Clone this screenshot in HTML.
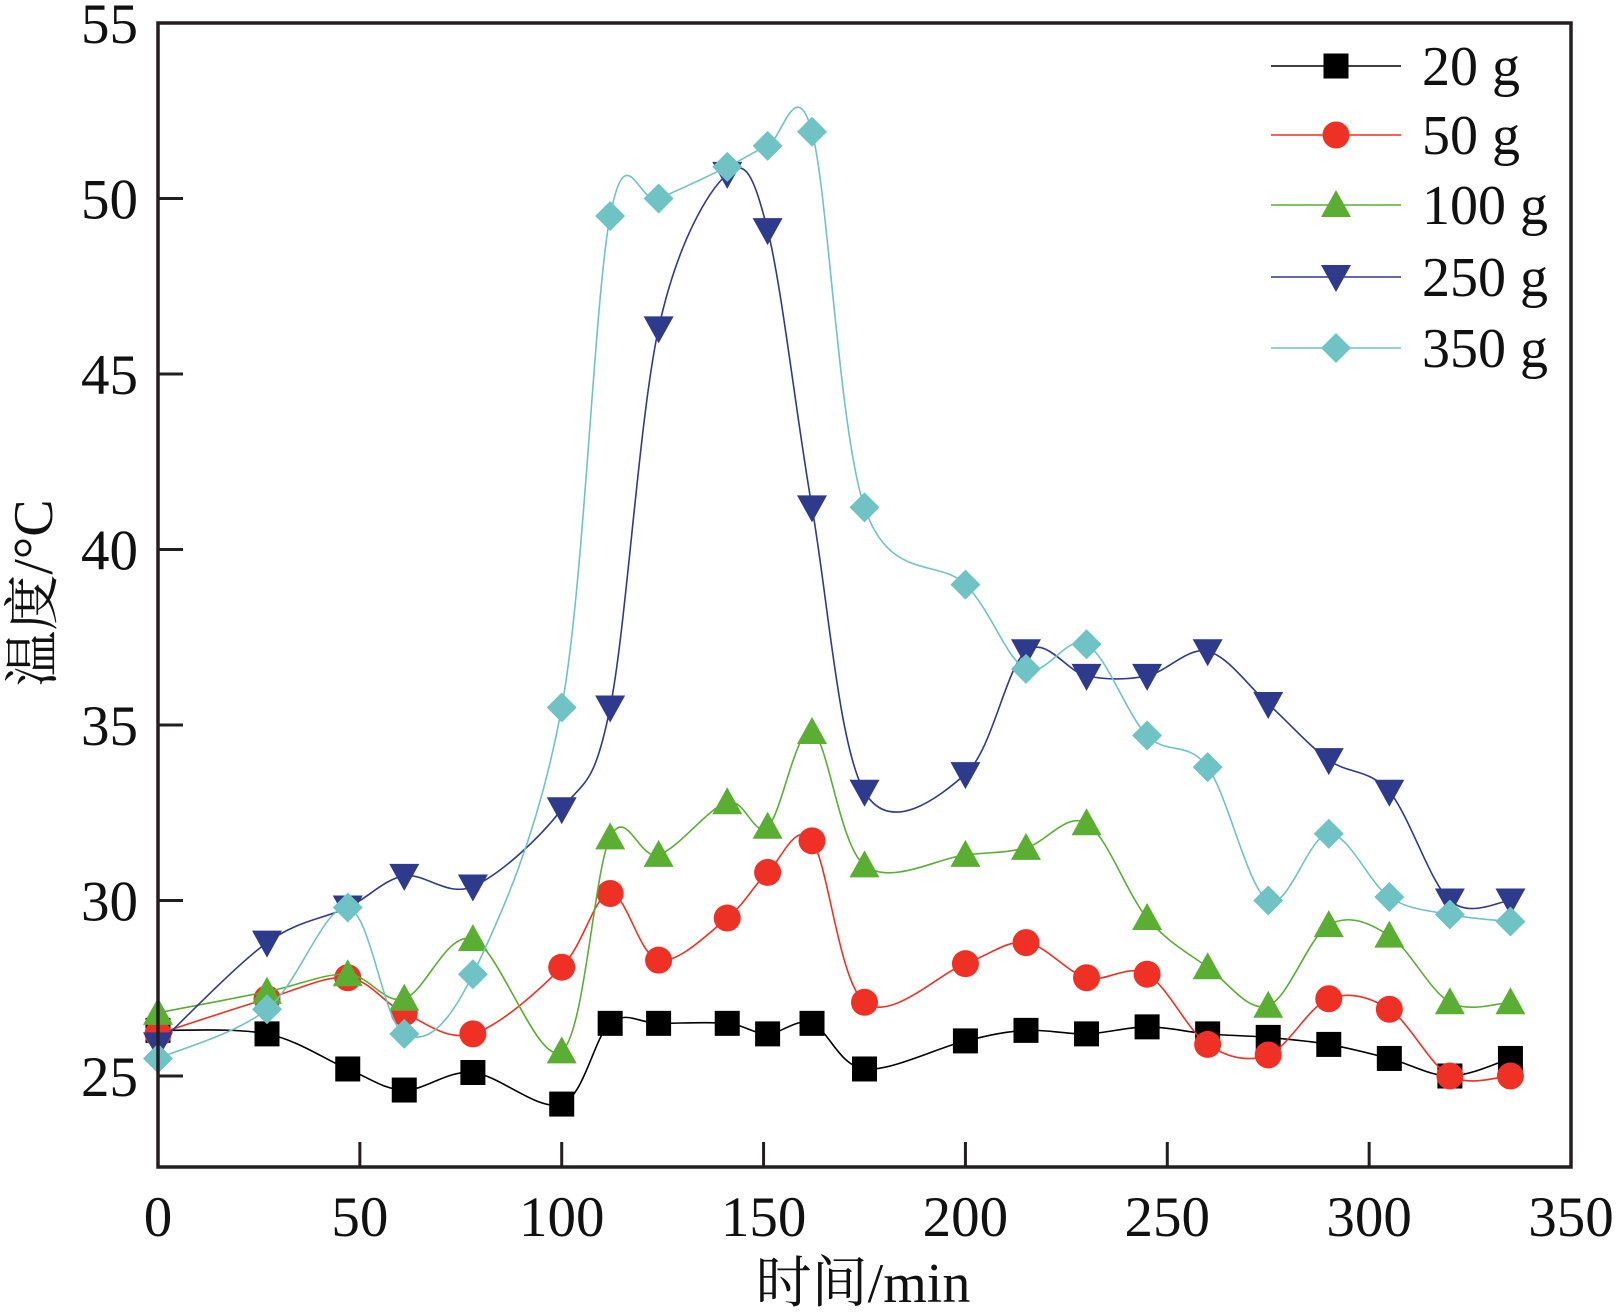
<!DOCTYPE html>
<html><head><meta charset="utf-8"><style>
html,body{margin:0;padding:0;background:#fff;}
svg text{font-family:"Liberation Serif","Noto Serif CJK SC",serif;fill:#111;}
</style></head><body>
<svg id="chart" width="1618" height="1311" viewBox="0 0 1618 1311" xmlns="http://www.w3.org/2000/svg">
<g id="series"></g>
<rect x="158" y="23" width="1413" height="1144" fill="none" stroke="#231f20" stroke-width="3.5"/>
<g id="axes"></g>
<text x="863" y="1302" font-size="56" text-anchor="middle">时间/min</text>
<text transform="translate(52,593) rotate(-90)" font-size="56" text-anchor="middle">温度/°C</text>
<g id="legend"></g>
</svg>
<script>
const xs=[0,27,47,61,78,100,112,124,141,151,162,175,200,215,230,245,260,275,290,305,320,335];
const labels=["20 g","50 g","100 g","250 g","350 g"];
const s20=[26.3,26.2,25.2,24.6,25.1,24.2,26.5,26.5,26.5,26.2,26.5,25.2,26.0,26.3,26.2,26.4,26.2,26.1,25.9,25.5,25.0,25.5];
const s50=[26.2,27.2,27.8,26.8,26.2,28.1,30.2,28.3,29.5,30.8,31.7,27.1,28.2,28.8,27.8,27.9,25.9,25.6,27.2,26.9,25.0,25.0];
const s100=[26.8,27.4,27.9,27.2,28.9,25.7,31.8,31.3,32.8,32.1,34.8,31.0,31.3,31.5,32.2,29.5,28.1,27.0,29.3,29.0,27.1,27.1];
const s250=[25.9,28.8,29.8,30.7,30.4,32.6,35.5,46.3,50.7,49.1,41.2,33.1,33.6,37.1,36.4,36.4,37.1,35.6,34.0,33.1,30.0,30.0];
const s350=[25.5,26.9,29.8,26.2,27.9,35.5,49.5,50.0,50.9,51.5,51.9,41.2,39.0,36.6,37.3,34.7,33.8,30.0,31.9,30.1,29.6,29.4];
const xTicks=[0,50,100,150,200,250,300,350];
const yTicks=[25,30,35,40,45,50,55];
const X=v=>158+v*(1413/350);
const Y=v=>23+(55-v)*35.1;
const NS="http://www.w3.org/2000/svg";
function mk(t,a,p){const e=document.createElementNS(NS,t);for(const k in a)e.setAttribute(k,a[k]);p.appendChild(e);return e;}
const axes=document.getElementById('axes');
xTicks.forEach(t=>{
  if(t>0&&t<350){const l=mk('line',{x1:X(t),x2:X(t),y1:1167,y2:1142,stroke:'#231f20','stroke-width':3},axes);
  
  }
  const tx=mk('text',{x:X(t),y:1236,'font-size':57,'text-anchor':'middle'},axes);tx.textContent=t;
  
  
});
yTicks.forEach(t=>{
  if(t<55){const l=mk('line',{x1:158,x2:183,y1:Y(t),y2:Y(t),stroke:'#231f20','stroke-width':3},axes);
  
  }
  const tx=mk('text',{x:138,y:Y(t)+20,'font-size':57,'text-anchor':'end'},axes);tx.textContent=t;
  
  
});
const colors=['#000000','#ee3124','#5aae32','#2e3a8c','#6fc3c4'];
const shapes=['square','circle','up','down','diamond'];
const data=[s20,s50,s100,s250,s350];
function path(pts){
  let d=`M${pts[0][0]},${pts[0][1]}`;
  for(let i=0;i<pts.length-1;i++){
    const p0=pts[Math.max(0,i-1)],p1=pts[i],p2=pts[i+1],p3=pts[Math.min(pts.length-1,i+2)];
    const c1=[p1[0]+(p2[0]-p0[0])/6,p1[1]+(p2[1]-p0[1])/6];
    const c2=[p2[0]-(p3[0]-p1[0])/6,p2[1]-(p3[1]-p1[1])/6];
    d+=` C${c1[0]},${c1[1]} ${c2[0]},${c2[1]} ${p2[0]},${p2[1]}`;
  }
  return d;
}
function marker(sh,x,y,c,g){
  let e;
  if(sh==='square')e=mk('rect',{x:x-12.5,y:y-12.5,width:25,height:25,fill:c},g);
  else if(sh==='circle')e=mk('circle',{cx:x,cy:y,r:13.5,fill:c},g);
  else if(sh==='up')e=mk('polygon',{points:`${x},${y-15} ${x+15},${y+12} ${x-15},${y+12}`,fill:c},g);
  else if(sh==='down')e=mk('polygon',{points:`${x},${y+15} ${x+15},${y-12} ${x-15},${y-12}`,fill:c},g);
  else e=mk('polygon',{points:`${x},${y-15} ${x+15},${y} ${x},${y+15} ${x-15},${y}`,fill:c},g);
  return e;
}
const sg=document.getElementById('series');
data.forEach((arr,si)=>{
  const g=mk('g',{},sg);
  
  
  const pts=arr.map((v,i)=>[X(xs[i]),Y(v)]);
  const p=mk('path',{d:path(pts),fill:'none',stroke:colors[si],'stroke-width':1.6},g);
  
  
  pts.forEach(q=>{const m=marker(shapes[si],q[0],q[1],colors[si],g);
    
    });
});
const lg=document.getElementById('legend');
const ly=[66,135,205,277,348];
labels.forEach((lab,i)=>{
  const g=mk('g',{},lg);
  
  
  mk('line',{x1:1271,x2:1401,y1:ly[i],y2:ly[i],stroke:colors[i],'stroke-width':1.6},g);
  marker(shapes[i],1336,ly[i],colors[i],g);
  const t=mk('text',{x:1422,y:ly[i]+19,'font-size':56},g);t.textContent=lab;
});
</script>
</body></html>
